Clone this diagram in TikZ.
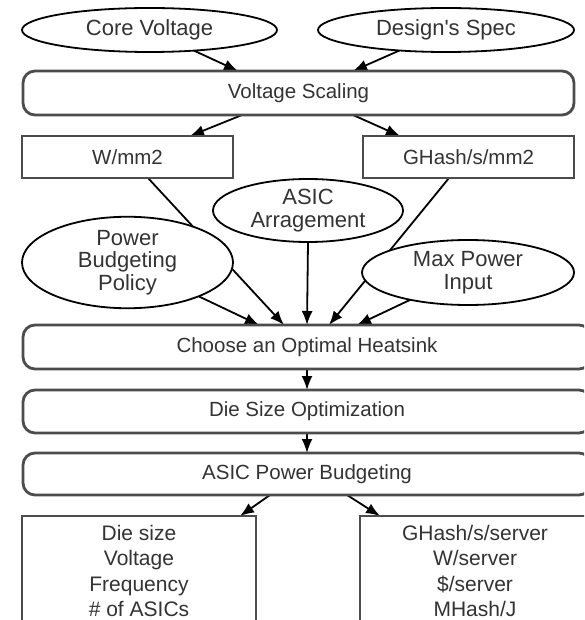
\documentclass[tikz,border=0pt]{standalone}
\usepackage{fontspec}
\setmainfont{Liberation Sans}
\usetikzlibrary{shapes.geometric,arrows.meta,backgrounds}
\begin{document}
\begin{tikzpicture}[x=1pt,y=-1pt,
  every node/.style={text=black!80, inner sep=0pt, outer sep=0pt},
  oval/.style={ellipse, draw=black, line width=1.8pt, fill=white, align=center,
    font=\fontsize{22}{22.5}\selectfont},
  stage/.style={rectangle, rounded corners=12pt, draw=black!70, line width=2.8pt,
    fill=white, font=\fontsize{20.5}{24}\selectfont},
  metric/.style={rectangle, draw=black!70, line width=2.8pt, fill=white,
    font=\fontsize{20.5}{24}\selectfont},
  report/.style={metric, anchor=north, align=center, inner ysep=9pt, text depth=40pt,
    font=\fontsize{21}{25.5}\selectfont},
  flow/.style={draw=black, line width=1.8pt, -{Latex[length=14pt,width=11pt]}}
]
\useasboundingbox (0,0) rectangle (584,620);
\clip (0,0) rectangle (584,620);

% inputs to voltage scaling
\node[oval, minimum width=255pt, minimum height=44pt] (cv) at (149.5,30) {Core Voltage};
\node[oval, minimum width=256pt, minimum height=44pt] (ds) at (446,30) {Design\textquotesingle s Spec};
\node[stage, minimum width=551pt, minimum height=44pt] (vs) at (298.5,93) {Voltage Scaling};

% per-area figures
\node[metric, minimum width=211pt, minimum height=42pt] (wmm) at (127.5,157) {W/mm2};
\node[metric, minimum width=211pt, minimum height=42pt] (gmm) at (468.5,157) {GHash/s/mm2};

% constraints
\node[oval, minimum width=190pt, minimum height=63pt] (asic) at (308,210.5) {ASIC\\Arragement};
\node[oval, minimum width=211pt, minimum height=85pt] (pbp) at (127.5,262.5) {Power\\Budgeting\\Policy};
\node[oval, minimum width=212pt, minimum height=65pt] (mpi) at (468,272.5) {Max Power\\Input};

% optimisation stages
\node[stage, minimum width=568pt, minimum height=44pt] (hs) at (307,347) {Choose an Optimal Heatsink};
\node[stage, minimum width=568pt, minimum height=43pt] (dso) at (307,411.5) {Die Size Optimization};
\node[stage, minimum width=568pt, minimum height=42pt] (apb) at (307,474) {ASIC Power Budgeting};

% results
\node[report, minimum width=234pt] (out1) at (139,516) {Die size\\Voltage\\Frequency\\\# of ASICs};
\node[report, minimum width=230pt] (out2) at (475,516) {GHash/s/server\\W/server\\\$/server\\MHash/J};

\begin{pgfonlayer}{background}
  \draw[flow] (cv) -- ([xshift=-60.5pt]vs.north);
  \draw[flow] (ds) -- ([xshift=54.5pt]vs.north);
  \draw[flow] ([xshift=-56.5pt]vs.south) -- ([xshift=62.5pt]wmm.north);
  \draw[flow] ([xshift=54.5pt]vs.south) -- ([xshift=-68.5pt]gmm.north);
  \draw[flow] (pbp) -- ([xshift=-48pt]hs.north);
  \draw[flow] ([xshift=20.5pt]wmm.south) -- ([xshift=-23pt]hs.north);
  \draw[flow] (asic.south) -- (hs.north);
  \draw[flow] ([xshift=-19.5pt]gmm.south) -- ([xshift=22pt]hs.north);
  \draw[flow] (mpi) -- ([xshift=50pt]hs.north);
  \draw[flow] (hs) -- (dso);
  \draw[flow] (dso) -- (apb);
  \draw[flow] ([xshift=-37pt]apb.south) -- ([xshift=101pt]out1.north);
  \draw[flow] ([xshift=40pt]apb.south) -- ([xshift=-95pt]out2.north);
\end{pgfonlayer}
\end{tikzpicture}
\end{document}
